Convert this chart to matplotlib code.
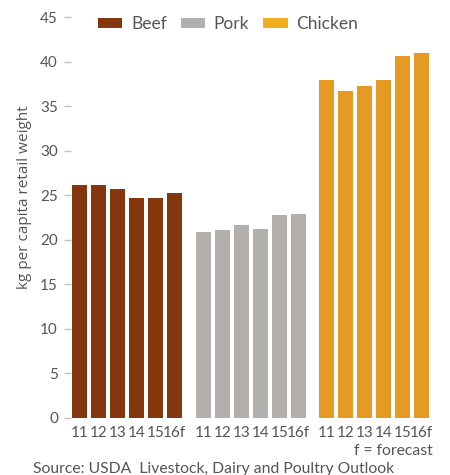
import numpy as np
import matplotlib.pyplot as plt
from matplotlib.patches import Patch

## Data
years = ['11', '12', '13', '14', '15', '16f']
beef = [26.2, 26.2, 25.7, 24.7, 24.7, 25.2]
pork = [20.9, 21.1, 21.7, 21.2, 22.8, 22.9]
chicken = [37.9, 36.7, 37.3, 38.0, 40.6, 41.0]

series = ['Beef', 'Pork', 'Chicken']
bar_colors = ['#84370d', '#b2afad', '#e59a24']
legend_colors = ['#84370d', '#b2afad', '#f0ae1e']
text_color = '#555555'

plt.rcParams['font.family'] = ['Lato', 'DejaVu Sans']

fig = plt.figure(figsize=(4.5, 4.75), dpi=100)
ax = fig.add_axes([0.158, 0.1206, 0.80, 0.843])

group_gap = 6.5
ticks, labels = [], []
for g, vals in enumerate([beef, pork, chicken]):
    x = np.arange(len(vals)) + g * group_gap
    ax.bar(x, vals, width=0.79, color=bar_colors[g], linewidth=0)
    ticks.extend(x)
    labels.extend(years)

ax.set_xticks(ticks)
ax.set_xticklabels(labels)
ax.set_xlim(-0.46, 18.5)
ax.set_ylim(0, 45)
ax.set_yticks(np.arange(0, 46, 5))

for s in ax.spines.values():
    s.set_visible(False)
ax.tick_params(axis='x', length=0, pad=6, labelsize=11, labelcolor=text_color)
ax.tick_params(axis='y', length=5, width=1, color='#c0c0c0', pad=4.5,
               labelsize=11, labelcolor=text_color)

handles = [Patch(facecolor=c, label=l) for c, l in zip(legend_colors, series)]
fig.legend(handles=handles, loc='center left', bbox_to_anchor=(0.218, 0.949),
           ncol=3, frameon=False, fontsize=12.5, labelcolor=text_color,
           handlelength=1.4, handleheight=0.5, handletextpad=0.5,
           columnspacing=0.8, borderaxespad=0, borderpad=0)

fig.text(0.055, 1 - 197 / 475, 'kg per capita retail weight', rotation=90,
         ha='center', va='center', fontsize=11, color=text_color,
         family=['Open Sans', 'DejaVu Sans'])
fig.text(433 / 450, 1 - 451 / 475, 'f = forecast', ha='right', va='center',
         fontsize=11.3, color=text_color)
fig.text(33 / 450, 1 - 469 / 475, 'Source: USDA  Livestock, Dairy and Poultry Outlook',
         ha='left', va='center', fontsize=11.3, color=text_color)

fig.savefig('out.png', dpi=100)
